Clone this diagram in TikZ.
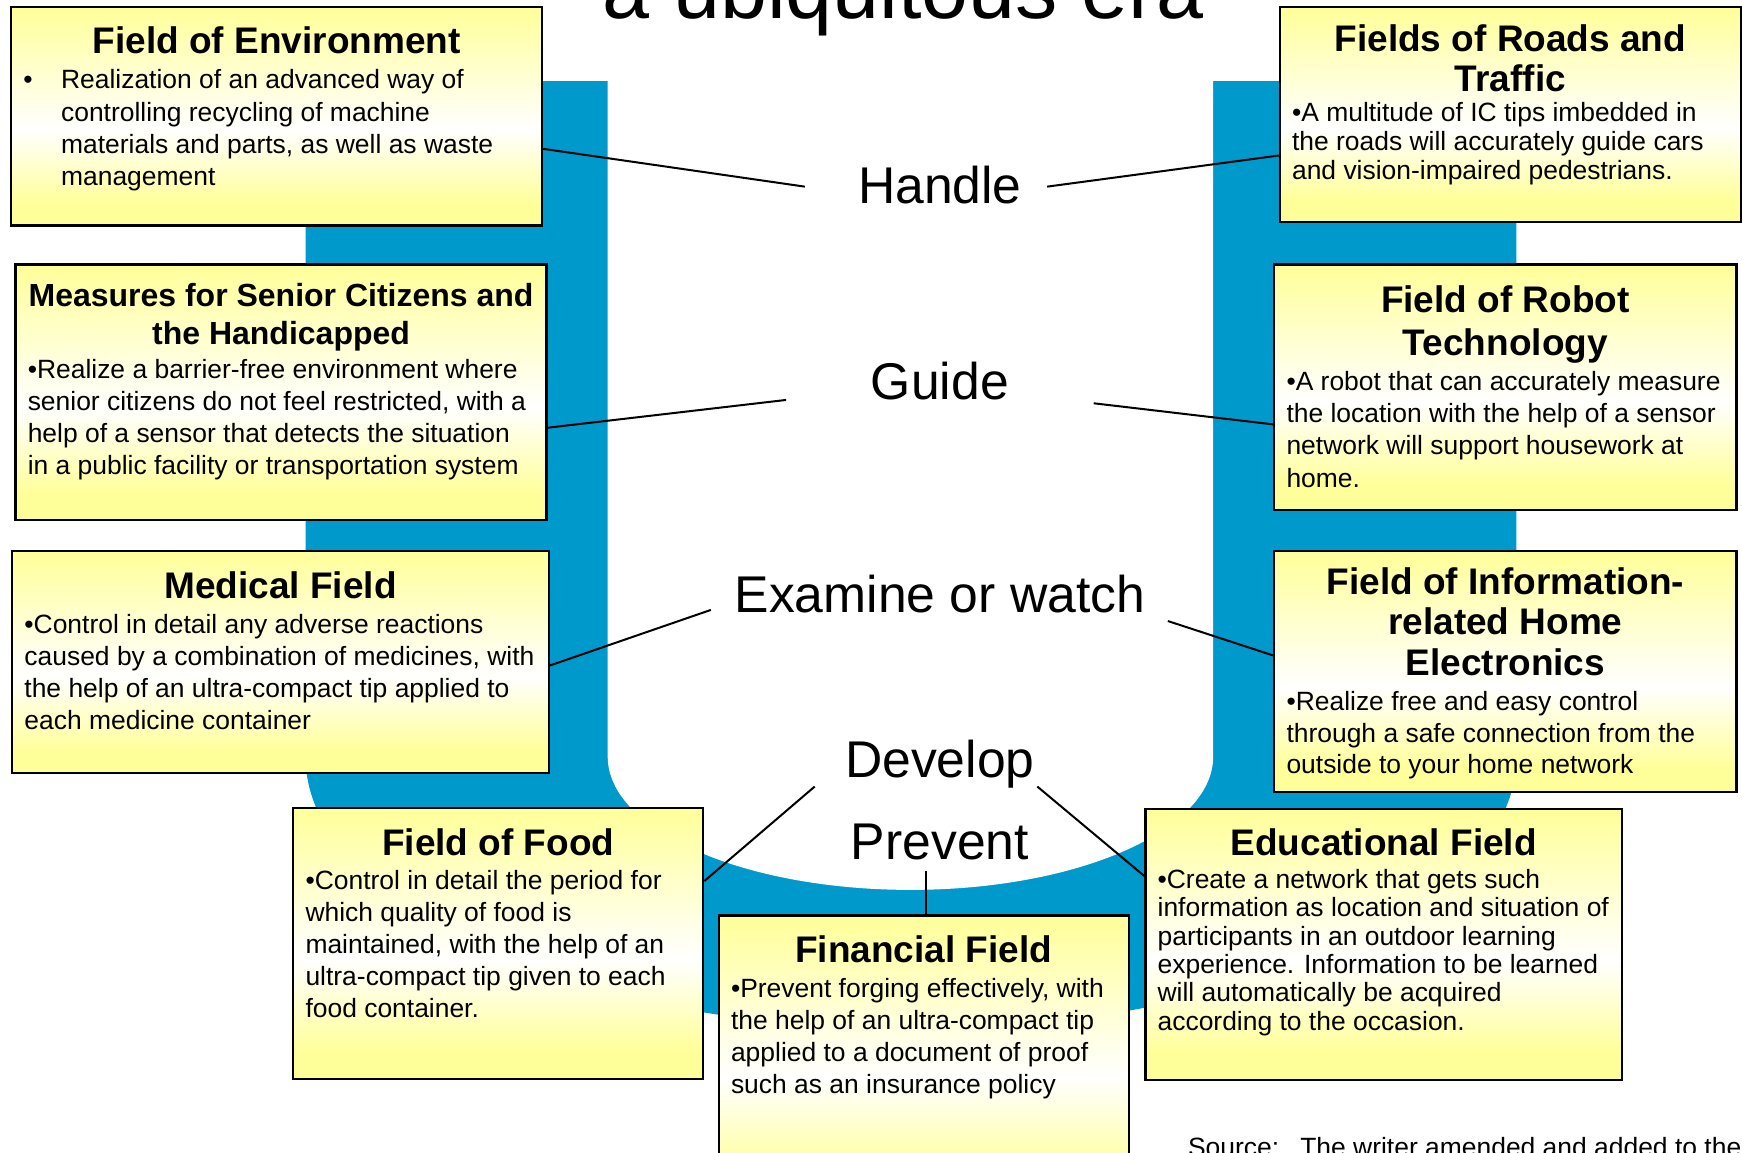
\documentclass[tikz,border=0pt]{standalone}
\usepackage{fontspec}
\setmainfont{Liberation Sans}
\usetikzlibrary{calc}

\definecolor{cupblue}{RGB}{0,153,204}
\definecolor{fieldyellow}{RGB}{255,255,153}
\pgfdeclareverticalshading{fieldshade}{100bp}{color(0bp)=(fieldyellow);
  color(30bp)=(fieldyellow); color(47bp)=(white); color(75bp)=(fieldyellow);
  color(100bp)=(fieldyellow)}

\newdimen\px \px=0.5pt
\newcommand{\fieldhead}{\leftskip=11\px plus 1fil\rightskip=11\px plus 1fil%
  \parfillskip=0pt\bfseries\fontsize{16.65}{18.5}\selectfont}
\newcommand{\fieldbody}{\leftskip=11\px\rightskip=0pt plus 1fil%
  \parfillskip=0pt plus 1fil\mdseries\fontsize{11.9}{14.5}\selectfont}

\begin{document}
\begin{tikzpicture}[x=0.5pt,y=-0.5pt,
      field/.style={draw=black,line width=1pt,shade,shading=fieldshade,
        anchor=north west,inner sep=0pt},
      verb/.style={font=\fontsize{23.25}{28}\selectfont,inner sep=0pt,
        anchor=base},
      link/.style={draw=black,line width=0.9pt}
      ]
      \useasboundingbox (0,0) rectangle (1568,1037);
      \clip (0,0) rectangle (1568,1037);

      % the cup
      \fill[cupblue] (275,73) -- (275,681) arc[start angle=180,end angle=360,
        x radius=272.5pt,y radius=122.5pt] -- (1365,73) -- cycle;
      \fill[white] (547,60) -- (547,681) arc[start angle=180,end angle=360,
        x radius=136.25pt,y radius=60pt] -- (1092,60) -- cycle;

      \node[font=\fontsize{38}{40}\selectfont,inner sep=0pt,anchor=base]
        (era) at (813,17) {a ubiquitous era};

      % left column
      \node[field] (env) at (9,5) {\parbox[c][197\px][t]{478\px}{%
        \fieldhead\rule{0pt}{21pt}Field of Environment\par\vspace{1.5pt}
        \fieldbody\leftskip=45\px\noindent\llap{\makebox[34\px][l]{•}}%
        Realization of an advanced way of\\controlling recycling of
        machine\\materials and parts, as well as waste\\management\par}};
      \node[field] (meas) at (13,237) {\parbox[c][230\px][t]{478\px}{%
        \fieldhead\fontsize{14.4}{17}\selectfont\rule{0pt}{19pt}Measures
        for Senior Citizens and\break the Handicapped\par\vspace{1pt}
        \fieldbody\fontsize{11.9}{14.4}\selectfont •Realize a barrier-free
        environment where\\senior citizens do not feel restricted, with
        a\\help of a sensor that detects the situation\\in a public
        facility or transportation system\par}};
      \node[field] (med) at (10,495) {\parbox[c][200\px][t]{483\px}{%
        \fieldhead\rule{0pt}{21.5pt}Medical Field\par\vspace{1pt}
        \fieldbody •Control in detail any adverse reactions\\caused by a
        combination of medicines, with\\the help of an ultra-compact tip
        applied to\\each medicine container\par}};
      \node[field] (food) at (263,726) {\parbox[c][244\px][t]{369\px}{%
        \fieldhead\rule{0pt}{21.5pt}Field of Food\par\vspace{1pt}
        \fieldbody\fontsize{11.9}{14.4}\selectfont •Control in detail the
        period for\\which quality of food is\\maintained, with the help of
        an\\ultra-compact tip given to each\\food container.\par}};
      \node[field] (fin) at (646,823) {\parbox[c][260\px][t]{369\px}{%
        \fieldhead\rule{0pt}{21pt}Financial Field\par\vspace{1.25pt}
        \fieldbody •Prevent forging effectively, with\\the help of an
        ultra-compact tip\\applied to a document of proof\\such as an
        insurance policy\par}};

      % right column
      \node[field] (edu) at (1030,727) {\parbox[c][244\px][t]{429\px}{%
        \fieldhead\rule{0pt}{21pt}Educational Field\par\vspace{1.95pt}
        \fieldbody\fontsize{11.9}{12.8}\selectfont •Create a network that
        gets such\\information as location and situation of\\participants
        in an outdoor learning\\experience. Information to be
        learned\\will automatically be acquired\\according to the
        occasion.\par}};
      \node[field] (info) at (1146,495) {\parbox[c][217\px][t]{416\px}{%
        \fieldhead\fontsize{16.65}{18.25}\selectfont\rule{0pt}{19.5pt}Field
        of Information-\break related Home\break Electronics\par
        \vspace{1.5pt}
        \fieldbody\fontsize{11.9}{14.25}\selectfont •Realize free and easy
        control\\through a safe connection from the\\outside to your home
        network\par}};
      \node[field] (robot) at (1146,237) {\parbox[c][221\px][t]{416\px}{%
        \fieldhead\fontsize{16.65}{19.5}\selectfont\rule{0pt}{21.5pt}Field
        of Robot\break Technology\par\vspace{1.25pt}
        \fieldbody •A robot that can accurately measure\\the location with
        the help of a sensor\\network will support housework
        at\\home.\par}};
      \node[field] (roads) at (1151,5) {\parbox[c][194\px][t]{415\px}{%
        \fieldhead\fontsize{16.65}{18}\selectfont\rule{0pt}{20pt}Fields of
        Roads and\break Traffic\par\vspace{0.75pt}
        \fieldbody\fontsize{11.9}{13}\selectfont •A multitude of IC tips
        imbedded in\\the roads will accurately guide cars\\and
        vision-impaired pedestrians.\par}};

      % verbs in the cup
      \node[verb] (handle) at (846,183.5) {Handle};
      \node[verb] (guide) at (846,360) {Guide};
      \node[verb] (watch) at (846,551.5) {Examine or watch};
      \node[verb] (develop) at (846,700) {Develop};
      \node[verb] (prevent) at (846,774) {Prevent};

      \draw[link] ([yshift=-14.75pt]env.east) --
        ([xshift=-23.75pt,yshift=7.75pt]handle.base west);
      \draw[link] ([xshift=11.25pt,yshift=7.75pt]handle.base east) --
        ([yshift=-18.5pt]roads.west);

      \draw[link] ([yshift=-16pt]meas.east) --
        ([xshift=-38pt]guide.base west);
      \draw[link] ([xshift=38pt,yshift=-1.5pt]guide.base east) --
        ([yshift=-16.75pt]robot.west);

      \draw[link] ([yshift=-1.5pt]med.east) --
        ([xshift=-10.5pt,yshift=1.25pt]watch.base west);
      \draw[link] ([xshift=10pt,yshift=-3.75pt]watch.base east) --
        ([yshift=7.25pt]info.west);

      \draw[link] ([yshift=28pt]food.east) --
        ([xshift=-13.5pt,yshift=-4pt]develop.base west);
      \draw[link] ([xshift=1pt,yshift=-4pt]develop.base east) --
        ([yshift=30.75pt]edu.west);

      \draw[link] ([xshift=-6.25pt,yshift=-5pt]prevent.base) --
        ([xshift=-6.25pt]prevent.base |- fin.north);

      \node[font=\fontsize{11.9}{14}\selectfont,inner sep=0pt,
        anchor=base west] (source) at (1069,1041)
        {Source:\hspace{9.5pt}The writer amended and added to the};
    \end{tikzpicture}
\end{document}
